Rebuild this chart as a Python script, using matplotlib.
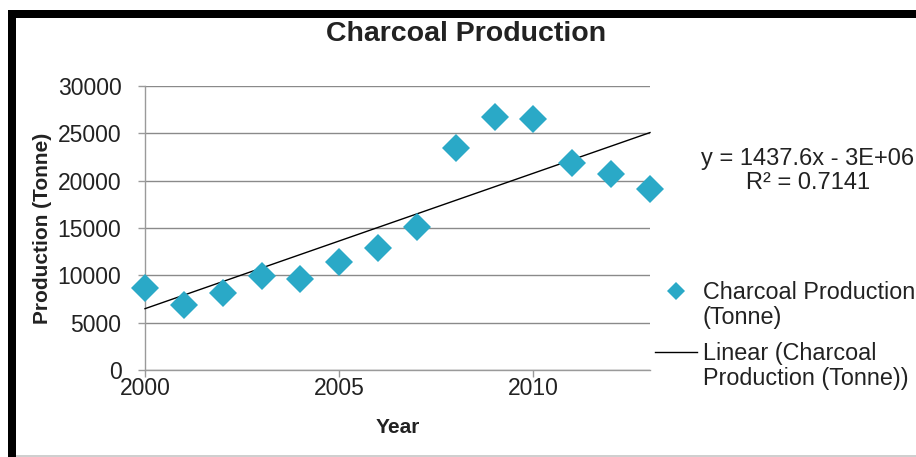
import numpy as np
import matplotlib
matplotlib.use("Agg")
import matplotlib.pyplot as plt
from matplotlib.patches import Rectangle
from matplotlib.legend_handler import HandlerLine2D

# data
years = [2000, 2001, 2002, 2003, 2004, 2005, 2006, 2007, 2008, 2009, 2010, 2011, 2012, 2013]
production = [8700, 6900, 8100, 9900, 9600, 11400, 12900, 15100, 23400, 26700, 26500, 21900, 20700, 19100]
y_ticks = [0, 5000, 10000, 15000, 20000, 25000, 30000]
x_ticks = [2000, 2005, 2010]
equation_text = "y = 1437.6x - 3E+06\nR\u00b2 = 0.7141"

plt.rcParams['font.family'] = ['Liberation Sans', 'DejaVu Sans']


class FirstLineHandler(HandlerLine2D):
    # put the legend handle on the first line of a two-line label
    def create_artists(self, legend, orig_handle, xdescent, ydescent,
                       width, height, fontsize, trans):
        return super().create_artists(legend, orig_handle, xdescent,
                                      ydescent - 1.3 * fontsize, width, height,
                                      fontsize, trans)


W, H = 916, 457
fig = plt.figure(figsize=(W / 100, H / 100), dpi=100)
ax = fig.add_axes([145 / W, 1 - 370 / H, (650 - 145) / W, (370 - 86) / H])

# linear trend line
slope, intercept = np.polyfit(years, production, 1)
xs = np.array([years[0], years[-1]])
trend, = ax.plot(xs, slope * xs + intercept, color='black', lw=1.0, zorder=3,
                 label='Linear (Charcoal\nProduction (Tonne))')
pts, = ax.plot(years, production, linestyle='none', marker='D', ms=14,
               color='#2aa9c7', markeredgewidth=0, zorder=4,
               label='Charcoal Production\n(Tonne)')

ax.set_xlim(2000, 2013)
ax.set_ylim(0, 30000)
ax.set_xticks(x_ticks)
ax.set_yticks(y_ticks)
ax.yaxis.grid(True, color='#8a8a8a', lw=1.0)
ax.set_axisbelow(True)
for s in ['top', 'right']:
    ax.spines[s].set_visible(False)
for s in ['left', 'bottom']:
    ax.spines[s].set_color('#9a9a9a')
    ax.spines[s].set_linewidth(1.0)
ax.tick_params(axis='both', colors='#9a9a9a', length=5, width=1.0,
               labelsize=16.5, labelcolor='#222222')
ax.tick_params(axis='y', pad=12)
ax.tick_params(axis='x', pad=0)
for ln in ax.lines:
    ln.set_clip_on(False)

ax.set_xlabel('Year', fontsize=15, fontweight='bold', color='#222222', labelpad=13)
ax.set_ylabel('Production (Tonne)', fontsize=15, fontweight='bold', color='#222222')
ax.yaxis.set_label_coords((52 - 145) / (650 - 145), 0.5)

fig.text(466 / W, 1 - 34 / H, 'Charcoal Production', fontsize=20.5, fontweight='bold',
         ha='center', va='center', color='#222222')

fig.text(808 / W, 1 - 171 / H, equation_text, fontsize=17, ha='center', va='center',
         multialignment='center', color='#222222', linespacing=1.12)

hmap = {pts: FirstLineHandler(), trend: FirstLineHandler()}
leg = fig.legend(handles=[pts, trend], loc='upper left', handler_map=hmap,
                 bbox_to_anchor=(655 / W, 1 - 281 / H), frameon=False,
                 fontsize=16.8, handlelength=1.78, handletextpad=0.27,
                 labelspacing=0.57, markerscale=0.65, borderaxespad=0,
                 borderpad=0)
for t in leg.get_texts():
    t.set_color('#222222')
    t.set_linespacing(1.1)

# black frame from the scanned figure
fig.add_artist(Rectangle((8 / W, 1 - 18 / H), 1, 8 / H, transform=fig.transFigure,
                         color='black', lw=0))
fig.add_artist(Rectangle((8 / W, 0), 8 / W, 1 - 10 / H, transform=fig.transFigure,
                         color='black', lw=0))
fig.add_artist(Rectangle((16 / W, 0), 1, 2 / H, transform=fig.transFigure,
                         color='#cfcfcf', lw=0))

fig.savefig('out.png', dpi=100)
